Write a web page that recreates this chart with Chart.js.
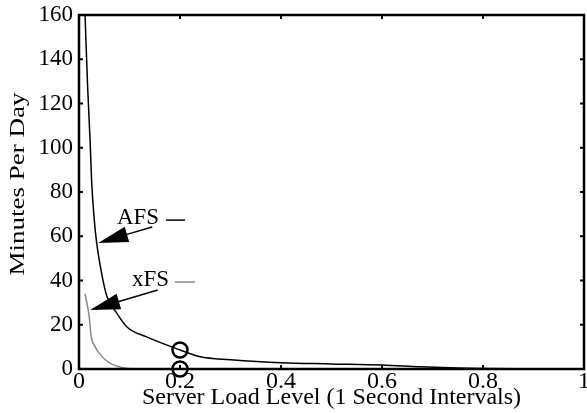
<!DOCTYPE html>
<html>
<head>
<meta charset="utf-8">
<script src="https://cdn.jsdelivr.net/npm/chart.js@4/dist/chart.umd.min.js"></script>
<style>
  html, body { margin: 0; padding: 0; background: #fff; }
  #wrap { width: 587px; height: 413px; }
</style>
</head>
<body>
<div id="wrap"><canvas id="chart"></canvas></div>
<script>
// ===== Data =====
const afsX = [0.012, 0.017, 0.022, 0.025, 0.030, 0.035, 0.045, 0.055, 0.071, 0.095, 0.134, 0.200, 0.240, 0.300, 0.400, 0.500, 0.600, 0.675, 0.750, 0.800, 1.000];
const afsY = [160, 128, 103, 85, 68, 57, 43, 33, 26.5, 19, 14.5, 8.6, 5.5, 4.2, 2.8, 2.3, 1.8, 1.0, 0.4, 0.2, 0];

const xfsX = [0.012, 0.020, 0.024, 0.032, 0.042, 0.061, 0.087, 0.120, 0.200, 0.480];
const xfsY = [34, 24, 15, 10, 6.5, 2.7, 0.6, 0, 0, 0];

const markX = [0.2, 0.2];
const markY = [8.6, 0];

const xTicks = [0, 0.2, 0.4, 0.6, 0.8, 1];
const yTicks = [0, 20, 40, 60, 80, 100, 120, 140, 160];

const xTitle = 'Server Load Level (1 Second Intervals)';
const yTitle = 'Minutes Per Day';

// labels with arrows (data coordinates)
const notes = [
    { text: 'AFS', tx: 0.075, ty: 68.2, lx1: 0.172, lx2: 0.210, ly: 67.3, color: '#000',
      ax1: 0.145, ay1: 64.2, ax2: 0.038, ay2: 57 },
    { text: 'xFS', tx: 0.105, ty: 40.2, lx1: 0.190, lx2: 0.230, ly: 39.3, color: '#888',
      ax1: 0.156, ay1: 35.7, ax2: 0.022, ay2: 26.7 }
];

const FONT = '"Liberation Serif", "Times New Roman", serif';

function pts(xs, ys) {
    return xs.map((x, i) => ({ x: x, y: ys[i] }));
}

// ===== Frame, inward ticks, y title and arrows =====
const framePlugin = {
    id: 'frame',
    afterDatasetsDraw(chart) {
        const ctx = chart.ctx;
        const a = chart.chartArea;
        const xs = chart.scales.x, ys = chart.scales.y;
        ctx.save();
        ctx.strokeStyle = '#000';
        ctx.lineWidth = 2.5;
        ctx.strokeRect(a.left, a.top, a.right - a.left, a.bottom - a.top);

        ctx.lineWidth = 2;
        ctx.beginPath();
        xTicks.forEach(v => {
            const px = xs.getPixelForValue(v);
            ctx.moveTo(px, a.bottom); ctx.lineTo(px, a.bottom - 4);
            ctx.moveTo(px, a.top); ctx.lineTo(px, a.top + 4);
        });
        yTicks.forEach(v => {
            const py = ys.getPixelForValue(v);
            ctx.moveTo(a.left, py); ctx.lineTo(a.left + 4, py);
            ctx.moveTo(a.right, py); ctx.lineTo(a.right - 4, py);
        });
        ctx.stroke();

        // y title (stretched along its length like the original)
        ctx.save();
        ctx.translate(19, (a.top + a.bottom) / 2 - 8);
        ctx.rotate(-Math.PI / 2);
        ctx.scale(1.35, 1);
        ctx.font = '20px ' + FONT;
        ctx.fillStyle = '#000';
        ctx.textAlign = 'center';
        ctx.textBaseline = 'middle';
        ctx.fillText(yTitle, 0, 0);
        ctx.restore();

        ctx.font = '23px ' + FONT;
        ctx.textBaseline = 'middle';
        ctx.textAlign = 'left';
        notes.forEach(n => {
            ctx.fillStyle = '#000';
            ctx.fillText(n.text, xs.getPixelForValue(n.tx), ys.getPixelForValue(n.ty));
            // short legend stroke
            ctx.strokeStyle = n.color;
            ctx.lineWidth = 1.5;
            ctx.beginPath();
            ctx.moveTo(xs.getPixelForValue(n.lx1), ys.getPixelForValue(n.ly));
            ctx.lineTo(xs.getPixelForValue(n.lx2), ys.getPixelForValue(n.ly));
            ctx.stroke();
            // arrow
            const x1 = xs.getPixelForValue(n.ax1), y1 = ys.getPixelForValue(n.ay1);
            const x2 = xs.getPixelForValue(n.ax2), y2 = ys.getPixelForValue(n.ay2);
            const ang = Math.atan2(y2 - y1, x2 - x1);
            const len = 30, half = 8;
            const bx = x2 - Math.cos(ang) * len, by = y2 - Math.sin(ang) * len;
            ctx.strokeStyle = '#000';
            ctx.lineWidth = 1.5;
            ctx.beginPath();
            ctx.moveTo(x1, y1);
            ctx.lineTo(bx, by);
            ctx.stroke();
            ctx.fillStyle = '#000';
            ctx.beginPath();
            ctx.moveTo(x2, y2);
            ctx.lineTo(bx + Math.sin(ang) * half, by - Math.cos(ang) * half);
            ctx.lineTo(bx - Math.sin(ang) * half, by + Math.cos(ang) * half);
            ctx.closePath();
            ctx.fill();
        });
        ctx.restore();
    }
};

const ctx = document.getElementById('chart').getContext('2d');
const chart = new Chart(ctx, {
    type: 'scatter',
    data: {
        datasets: [
            {   // xFS
                label: 'xFS',
                data: pts(xfsX, xfsY),
                showLine: true,
                borderColor: '#888',
                borderWidth: 1.5,
                pointRadius: 0,
                cubicInterpolationMode: 'monotone'
            },
            {   // AFS
                label: 'AFS',
                data: pts(afsX, afsY),
                showLine: true,
                borderColor: '#000',
                borderWidth: 1.5,
                pointRadius: 0,
                cubicInterpolationMode: 'monotone'
            },
            {   // circles at 0.2
                label: 'marks',
                data: pts(markX, markY),
                showLine: false,
                pointStyle: 'circle',
                pointRadius: 7.5,
                borderWidth: 2.5,
                borderColor: '#000',
                backgroundColor: 'rgba(0,0,0,0)',
                clip: false
            }
        ]
    },
    options: {
        responsive: true,
        maintainAspectRatio: false,
        animation: false,
        layout: { autoPadding: false, padding: { top: 15, right: 3, left: 0, bottom: 0 } },
        plugins: { legend: { display: false }, tooltip: { enabled: false } },
        scales: {
            x: {
                type: 'linear',
                min: 0, max: 1,
                afterBuildTicks: s => { s.ticks = xTicks.map(v => ({ value: v })); },
                afterFit: s => { s.height = 44; s.paddingLeft = 0; s.paddingRight = 0; },
                grid: { display: false, drawTicks: false },
                border: { display: false },
                ticks: { font: { family: FONT, size: 24 }, color: '#000', padding: -2, maxRotation: 0,
                         callback: v => String(v) },
                title: { display: true, text: xTitle, font: { family: FONT, size: 24 }, color: '#000',
                         padding: { top: 0, bottom: 1 } }
            },
            y: {
                type: 'linear',
                min: 0, max: 160,
                afterBuildTicks: s => { s.ticks = yTicks.map(v => ({ value: v })); },
                afterFit: s => { s.width = 79; s.paddingTop = 0; s.paddingBottom = 0; },
                grid: { display: false, drawTicks: false },
                border: { display: false },
                ticks: { font: { family: FONT, size: 23 }, color: '#000', padding: 6 }
            }
        }
    },
    plugins: [framePlugin]
});
</script>
</body>
</html>
